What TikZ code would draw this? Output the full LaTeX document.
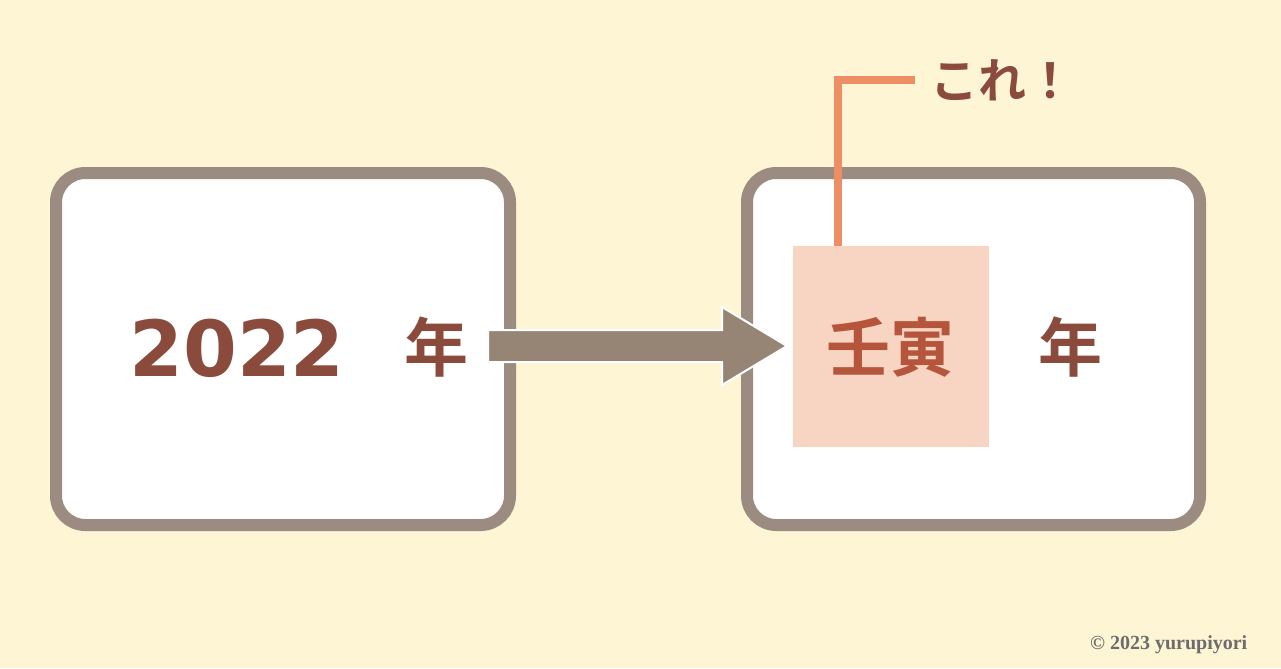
\documentclass[tikz,border=0pt]{standalone}
\usepackage{fontspec}
\newfontfamily\cjk{Noto Sans CJK JP}[BoldFont={* Bold}]
\newfontfamily\digf{DejaVu Sans}
\setmainfont{Liberation Serif}
\definecolor{bg}{HTML}{FDF5D3}
\definecolor{frame}{HTML}{9C8B80}
\definecolor{arr}{HTML}{968574}
\definecolor{pinkf}{HTML}{F8D5C3}
\definecolor{txt}{HTML}{8A4A3C}
\definecolor{txt2}{HTML}{B5553C}
\definecolor{orng}{HTML}{EE8E65}
\begin{document}
\begin{tikzpicture}[x=0.75pt,y=-0.75pt,
  box/.style={draw=frame,line width=9pt,fill=white,rounded corners=22pt},
  big/.style={font=\digf\bfseries\fontsize{58}{58}\selectfont,text=txt},
  kan/.style={font=\cjk\bfseries\fontsize{48}{48}\selectfont}]
\fill[bg] (0,0) rectangle (1281,668);
\useasboundingbox (0,0) rectangle (1281,668);
\draw[box] (56,173) rectangle (510,525);
\draw[box] (747,173) rectangle (1200,525);
\node[big] (y) at (237,348) {2022};
\node[kan,text=txt] (n1) at (436,347) {年};
\fill[pinkf] (793,246) rectangle (989,447);
\coordinate (pk) at (838,246);
\node[kan,text=txt2] (ky) at (890,347) {壬寅};
\node[kan,text=txt] (n2) at (1070,347) {年};
\draw[fill=arr,draw=white,line width=1.5pt]
  (488,330) -- (722,330) -- (722,307) -- (787,346) -- (722,385) -- (722,362) -- (488,362) -- cycle;
\coordinate (ce) at (915,80);
\draw[orng,line width=6pt] (pk) -- (838,80) -- (ce);
\node[font=\cjk\bfseries\fontsize{36}{36}\selectfont,text=txt,anchor=west] (k) at (926,80) {これ！};
\node[font=\bfseries\fontsize{15}{15}\selectfont,text=gray!85!black,anchor=east] (c) at (1252,645) {© 2023 yurupiyori};
\end{tikzpicture}
\end{document}
